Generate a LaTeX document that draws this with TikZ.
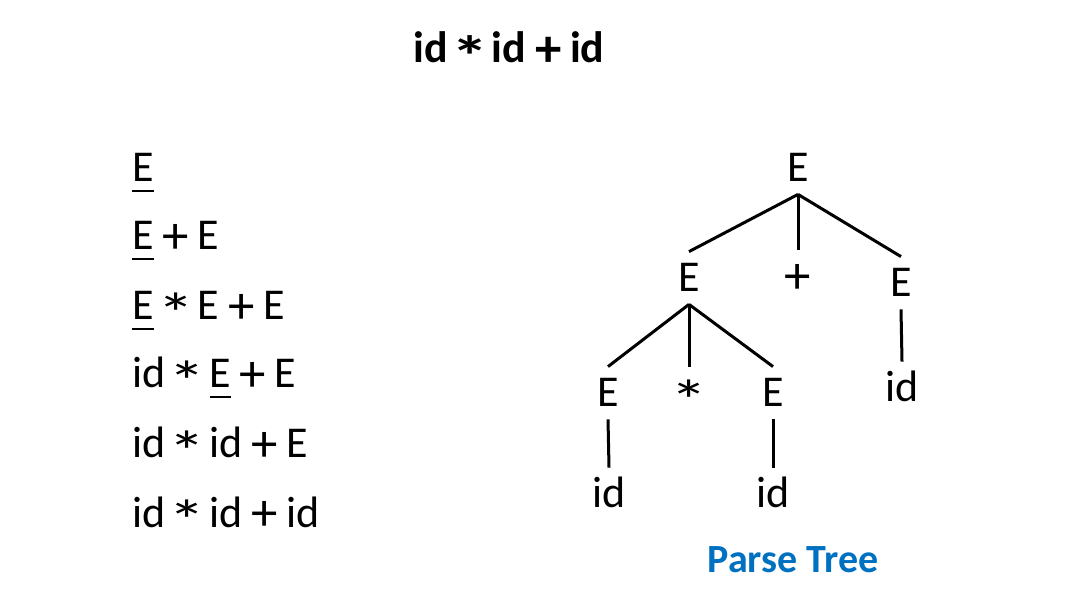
\documentclass[tikz,border=0pt]{standalone}
\usepackage{fontspec}
\setmainfont{Carlito}
\definecolor{treeblue}{HTML}{0070C0}
\newcommand\uline[1]{\setbox0\hbox{#1}\rlap{\rule[-5pt]{\wd0}{1pt}}\box0\relax}
\newcommand\stx{\setbox2\hbox{*}\makebox[\wd2]{\raisebox{\dimexpr0.62em-1.3\ht2\relax}{\scalebox{1.7}[1.3]{*}}}}
\newcommand\pls{\setbox2\hbox{+}\makebox[\wd2]{\raisebox{-0.07em}{\scalebox{1.2}{+}}}}
\newcommand\bigtext{\fontsize{22}{26}\selectfont\spaceskip=0.25em\relax}
\tikzset{
  word/.style={anchor=base,inner sep=6pt,text height=14pt,text depth=0pt,font=\bigtext},
  edge/.style={line width=1.5pt}
}
\begin{document}
\begin{tikzpicture}[x=0.5pt,y=-0.5pt]
\useasboundingbox (0,0) rectangle (1085,613);
\node[anchor=base,font=\bigtext\bfseries] (title) at (509,63) {id \stx{} id \pls{} id};
% derivation
\foreach \i/\y/\t in {1/182/{\uline{E}},2/250/{\uline{E} \pls{} E},3/320/{\uline{E} \stx{} E \pls{} E},
  4/388/{id \stx{} \uline{E} \pls{} E},5/458/{id \stx{} id \pls{} E},6/527/{id \stx{} id \pls{} id}}
  \node[anchor=base west,inner sep=0pt,font=\bigtext] (d\i) at (132,\y) {\t};
% parse tree
\node[word] (root) at (798,182) {E};
\node[word] (l) at (689,292) {E};
\node[word] (plus) at (798,290) {\pls};
\node[word] (r) at (901,297) {E};
\node[word] (ll) at (608,407) {E};
\node[word] (star) at (689,407) {\stx};
\node[word] (lr) at (773,407) {E};
\node[word] (rid) at (902,402) {id};
\node[word] (llid) at (609,508) {id};
\node[word] (lrid) at (773,508) {id};
\foreach \a/\b in {root/l,root/plus,root/r,l/ll,l/star,l/lr,r/rid,ll/llid,lr/lrid}
  \draw[edge] (\a.south) -- (\b.north);
\node[anchor=base,font=\fontsize{20}{24}\selectfont\bfseries,text=treeblue] (cap) at (793,572) {Parse Tree};
\end{tikzpicture}
\end{document}
